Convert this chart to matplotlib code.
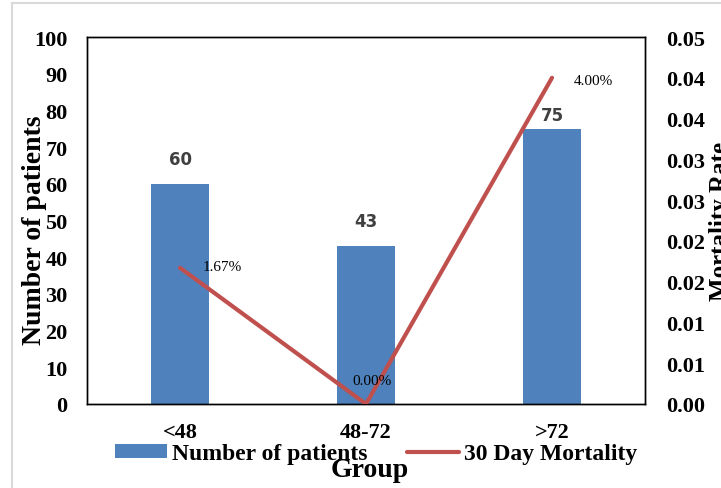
import numpy as np
import matplotlib
matplotlib.use("Agg")
import matplotlib.pyplot as plt
from matplotlib.lines import Line2D
from matplotlib.patches import Patch

groups = ["<48", "48-72", ">72"]
patients = [60, 43, 75]
mortality = [0.0167, 0.0, 0.04]
left_ticks = [0, 10, 20, 30, 40, 50, 60, 70, 80, 90, 100]
right_ticks = [0.0, 0.005, 0.01, 0.015, 0.02, 0.025, 0.03, 0.035, 0.04, 0.045]
right_labels = ["0.00", "0.01", "0.01", "0.02", "0.02", "0.03", "0.03", "0.04", "0.04", "0.05"]

BLUE = "#4F81BD"
RED = "#C0504D"
SERIF = "Liberation Serif"

fig = plt.figure(figsize=(7.21, 4.89), dpi=100)
W, H = 721, 489

# plot area in pixel terms
ax = fig.add_axes([87 / W, 1 - 405 / H, 558 / W, 367 / H])
ax2 = ax.twinx()

x = np.arange(len(groups))
bars = ax.bar(x, patients, width=0.31, color=BLUE, zorder=2)
ax.set_xlim(-0.5, 2.5)
ax.set_ylim(0, 100)
ax.set_yticks(left_ticks)
ax.set_xticks(x)
ax.set_xticklabels(groups)
for lbl in ax.get_xticklabels() + ax.get_yticklabels():
    lbl.set_fontfamily(SERIF)
    lbl.set_fontweight("bold")
    lbl.set_fontsize(16)
ax.tick_params(axis="y", length=0, pad=14)
ax.tick_params(axis="x", length=0, pad=13)

# bar value labels
label_dy = [18, 18, 10]
for xi, v, dy in zip(x, patients, label_dy):
    ax.annotate(str(v), (xi, v), xytext=(0, dy), textcoords="offset points",
                ha="center", va="center", fontsize=12, fontweight="bold",
                color="#404040", family="DejaVu Sans")

line, = ax2.plot(x, mortality, color=RED, lw=3, solid_capstyle="round", zorder=3)
ax2.set_ylim(0, 0.045)
ax2.set_yticks(right_ticks)
ax2.set_yticklabels(right_labels)
for lbl in ax2.get_yticklabels():
    lbl.set_fontfamily(SERIF)
    lbl.set_fontweight("bold")
    lbl.set_fontsize(16)
ax2.tick_params(axis="y", length=0, pad=15)

# mortality labels
pct_offsets = [(16, 1, "left"), (4, 17, "center"), (16, -2, "left")]
for xi, m, (dx, dy, ha) in zip(x, mortality, pct_offsets):
    ax2.annotate(f"{m:.2%}", (xi, m), xytext=(dx, dy), textcoords="offset points",
                 ha=ha, va="center", fontsize=11, family=SERIF, color="black")

for a in (ax, ax2):
    for s in a.spines.values():
        s.set_color("black")
        s.set_linewidth(1.0)

# axis titles
fig.text(35 / W, 1 - 230 / H, "Number of patients", rotation=90, ha="center",
         va="center", fontsize=20, fontweight="bold", family=SERIF)
fig.text(721 / W, 1 - 221 / H, "Mortality Rate", rotation=90, ha="center",
         va="center", fontsize=18, fontweight="bold", family=SERIF)
fig.text(370 / W, 1 - 471 / H, "Group", ha="center", va="center",
         fontsize=20, fontweight="bold", family=SERIF)

handles = [Patch(facecolor=BLUE, edgecolor="none"),
           Line2D([0], [0], color=RED, lw=3, solid_capstyle="round")]
fig.legend(handles, ["Number of patients", "30 Day Mortality"], ncol=2,
           loc="center", bbox_to_anchor=(376 / W, 1 - 455 / H), frameon=False,
           prop={"family": SERIF, "weight": "bold", "size": 17},
           handlelength=2.2, handleheight=0.55, handletextpad=0.2,
           columnspacing=1.7, borderpad=0, borderaxespad=0)

# light chart-area border (left and top)
fig.add_artist(Line2D([12 / W, 12 / W], [0, 1 - 4 / H], color="#d9d9d9", lw=1.5,
                      transform=fig.transFigure))
fig.add_artist(Line2D([12 / W, 1], [1 - 4 / H, 1 - 4 / H], color="#d9d9d9", lw=1.5,
                      transform=fig.transFigure))

fig.savefig("out.png", dpi=100)
